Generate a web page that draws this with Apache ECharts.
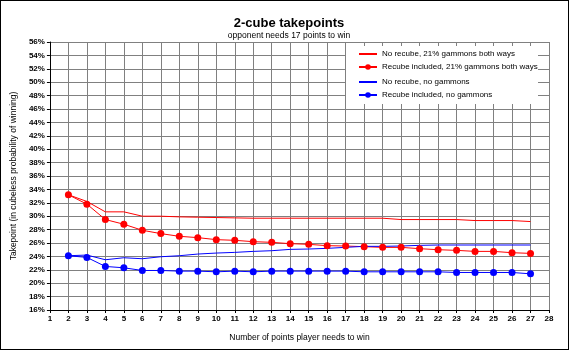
<!DOCTYPE html>
<html>
<head>
    <meta charset="utf-8">
    <script src="https://cdn.jsdelivr.net/npm/echarts@6/dist/echarts.min.js"></script>
    <style>
        body { margin: 0; background: #fff; }
        #main { width: 567px; height: 348px; border: 1px solid #000; }
    </style>
</head>
<body>
<div id="main"></div>
<script type="text/javascript">
    // points the player needs to win
    var points = [2, 3, 4, 5, 6, 7, 8, 9, 10, 11, 12, 13, 14, 15, 16, 17, 18, 19, 20, 21, 22, 23, 24, 25, 26, 27];

    // takepoints in %
    var noRecubeGammons = [33.2, 32.2, 30.65, 30.65, 30.0, 30.0, 29.9, 29.85, 29.8, 29.75, 29.7, 29.7, 29.7,
        29.7, 29.7, 29.7, 29.7, 29.7, 29.5, 29.5, 29.5, 29.5, 29.35, 29.35, 29.35, 29.2];
    var recubeGammons = [33.2, 31.8, 29.5, 28.8, 27.9, 27.4, 27.0, 26.8, 26.5, 26.4, 26.2, 26.1, 25.9,
        25.8, 25.6, 25.55, 25.45, 25.35, 25.35, 25.15, 25.0, 24.9, 24.75, 24.75, 24.55, 24.45];
    var noRecubeNoGammons = [24.1, 24.2, 23.5, 23.8, 23.65, 23.95, 24.1, 24.35, 24.5, 24.6, 24.75, 24.85, 25.05,
        25.1, 25.2, 25.35, 25.5, 25.5, 25.55, 25.65, 25.7, 25.7, 25.7, 25.7, 25.7, 25.7];
    var recubeNoGammons = [24.1, 23.85, 22.5, 22.3, 21.9, 21.9, 21.8, 21.8, 21.7, 21.8, 21.7, 21.8, 21.8,
        21.8, 21.8, 21.8, 21.7, 21.7, 21.7, 21.7, 21.7, 21.6, 21.6, 21.6, 21.6, 21.4];

    var names = [
        'No recube, 21% gammons both ways',
        'Recube included, 21% gammons both ways',
        'No recube, no gammons',
        'Recube included, no gammons'
    ];

    function pairs(vals) {
        return points.map(function (p, i) { return [p, vals[i]]; });
    }

    var font = 'Liberation Sans, Arial, sans-serif';
    var myChart = echarts.init(document.getElementById('main'));

    function lineSeries(name, vals, color, dots) {
        return {
            name: name,
            type: 'line',
            data: pairs(vals),
            symbol: dots ? 'circle' : 'none',
            symbolSize: 7,
            showSymbol: dots,
            lineStyle: { color: color, width: 1 },
            itemStyle: { color: color },
            emphasis: { disabled: true },
            animation: false
        };
    }

    // legend entry: plain line for the no-marker series
    function legendItem(name, dots) {
        if (dots) return { name: name };
        return { name: name, itemStyle: { color: 'transparent', borderWidth: 0 } };
    }

    var legendText = { fontSize: 8, fontFamily: font, color: '#000' };

    var option = {
        animation: false,
        title: [
            {
                text: '2-cube takepoints',
                left: 283, top: 11, textAlign: 'center',
                textStyle: { fontSize: 13, fontWeight: 'bold', fontFamily: font, color: '#000' }
            },
            {
                text: 'opponent needs 17 points to win',
                left: 283, top: 25, textAlign: 'center',
                textStyle: { fontSize: 8.5, fontWeight: 'normal', fontFamily: font, color: '#000' }
            }
        ],
        graphic: [{
            type: 'rect', z: 3, silent: true,
            shape: { x: 345, y: 45, width: 192, height: 58 },
            style: { fill: '#fff' }
        }],
        legend: [
            {
                data: [legendItem(names[0], false), legendItem(names[1], true)],
                orient: 'vertical', left: 352, top: 45, padding: [4, 5],
                itemWidth: 18, itemHeight: 7, itemGap: 5,
                textStyle: legendText
            },
            {
                data: [legendItem(names[2], false), legendItem(names[3], true)],
                orient: 'vertical', left: 352, top: 73, padding: [4, 5],
                itemWidth: 18, itemHeight: 7, itemGap: 5,
                textStyle: legendText
            }
        ],
        grid: { left: 43, right: 19, top: 41, bottom: 39 },
        xAxis: {
            type: 'value', min: 1, max: 28, interval: 1,
            name: 'Number of points player needs to win',
            nameLocation: 'middle', nameGap: 23,
            nameTextStyle: { fontSize: 8.5, fontFamily: font, color: '#000' },
            axisLine: { lineStyle: { color: '#000', width: 1 } },
            axisTick: { length: 3, lineStyle: { color: '#000' } },
            axisLabel: { fontSize: 8, fontWeight: 'bold', fontFamily: font, color: '#000', margin: 5 },
            splitLine: { show: true, lineStyle: { color: '#808080', width: 1 } }
        },
        yAxis: {
            type: 'value', min: 16, max: 56, interval: 2,
            name: 'Takepoint (in cubeless probability of winning)',
            nameLocation: 'middle', nameGap: 28,
            nameTextStyle: { fontSize: 8.5, fontFamily: font, color: '#000' },
            axisLine: { show: true, lineStyle: { color: '#000', width: 1 } },
            axisTick: { show: true, length: 3, lineStyle: { color: '#000' } },
            axisLabel: { fontSize: 8, fontWeight: 'bold', fontFamily: font, color: '#000', margin: 5, formatter: '{value}%' },
            splitLine: { show: true, lineStyle: { color: '#808080', width: 1 } }
        },
        series: [
            lineSeries(names[0], noRecubeGammons, '#ff0000', false),
            lineSeries(names[1], recubeGammons, '#ff0000', true),
            lineSeries(names[2], noRecubeNoGammons, '#0000ff', false),
            lineSeries(names[3], recubeNoGammons, '#0000ff', true)
        ]
    };

    myChart.setOption(option);
</script>
</body>
</html>
